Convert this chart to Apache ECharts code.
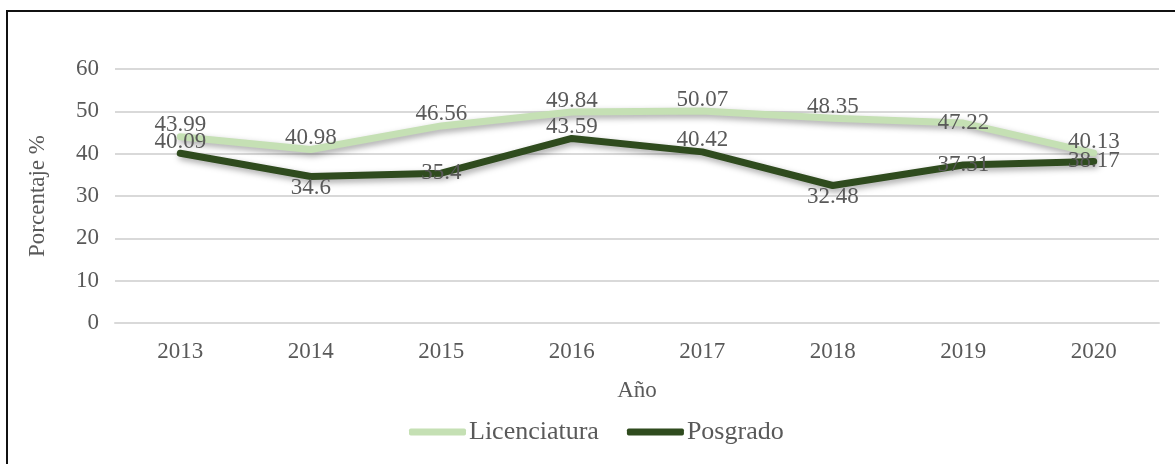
<!DOCTYPE html>
<html>
<head>
<meta charset="utf-8">
<script src="https://cdn.jsdelivr.net/npm/echarts@6/dist/echarts.min.js"></script>
<style>
  html, body { margin: 0; padding: 0; background: #fff; }
  #chart { width: 1175px; height: 464px; }
  .frame {
    position: absolute;
    left: 6px;
    top: 10px;
    right: 0;
    bottom: 0;
    border-left: 2px solid #111;
    border-top: 2px solid #111;
    pointer-events: none;
  }
</style>
</head>
<body>
<div id="chart"></div>
<div class="frame"></div>
<script>
  // datos del gráfico
  const years = ['2013', '2014', '2015', '2016', '2017', '2018', '2019', '2020']
  const licenciatura = [43.99, 40.98, 46.56, 49.84, 50.07, 48.35, 47.22, 40.13]
  const posgrado = [40.09, 34.6, 35.4, 43.59, 40.42, 32.48, 37.31, 38.17]
  const yTicks = [0, 10, 20, 30, 40, 50, 60]

  // posicion de etiquetas
  const licenciaturaLabelPos = ['top', 'top', 'top', 'top', 'top', 'top', 'inside', 'top']
  const posgradoLabelPos = ['top', 'bottom', 'inside', 'top', 'top', 'bottom', 'inside', 'inside']

  const font = 'Liberation Serif'
  const textColor = '#595959'

  const lineStyle = (color) => ({
    color: color,
    width: 7,
    cap: 'round',
    join: 'round',
    shadowColor: 'rgba(0,0,0,0.35)',
    shadowBlur: 6,
    shadowOffsetX: 2,
    shadowOffsetY: 3
  })

  const chart = echarts.init(document.getElementById('chart'))
  chart.setOption({
    animation: false,
    textStyle: { fontFamily: font },
    grid: {
      left: 115,
      right: 16,
      top: 69,
      bottom: 141
    },
    legend: {
      bottom: 14,
      left: 404,
      icon: 'roundRect',
      itemWidth: 57,
      itemHeight: 7,
      itemGap: 28,
      textStyle: {
        fontFamily: font,
        fontSize: 26,
        color: textColor,
        padding: [0, 0, 0, -2]
      },
      data: ['Licenciatura', 'Posgrado']
    },
    xAxis: {
      type: 'category',
      data: years,
      name: 'Año',
      nameLocation: 'middle',
      nameGap: 56,
      nameTextStyle: { fontFamily: font, fontSize: 23, color: textColor },
      axisLine: { lineStyle: { color: '#d9d9d9', width: 2 } },
      axisTick: { show: false },
      axisLabel: { fontFamily: font, fontSize: 23, color: textColor, margin: 17 }
    },
    yAxis: {
      type: 'value',
      min: yTicks[0],
      max: yTicks[yTicks.length - 1],
      interval: 10,
      name: 'Porcentaje %',
      nameLocation: 'middle',
      nameGap: 66,
      nameTextStyle: { fontFamily: font, fontSize: 23, color: textColor },
      axisLine: { show: false },
      axisTick: { show: false },
      splitLine: { lineStyle: { color: '#d9d9d9', width: 2 } },
      axisLabel: { fontFamily: font, fontSize: 23, color: textColor, margin: 16 }
    },
    series: [
      {
        name: 'Licenciatura',
        type: 'line',
        symbol: 'circle',
        symbolSize: 0,
        showSymbol: true,
        color: '#c5e0b4',
        data: licenciatura.map((v, i) => ({
          value: v,
          label: { position: licenciaturaLabelPos[i] }
        })),
        lineStyle: lineStyle('#c5e0b4'),
        label: {
          show: true,
          distance: 0,
          fontFamily: font,
          fontSize: 23,
          color: textColor
        }
      },
      {
        name: 'Posgrado',
        type: 'line',
        symbol: 'circle',
        symbolSize: 0,
        showSymbol: true,
        color: '#2f4b1e',
        data: posgrado.map((v, i) => ({
          value: v,
          label: { position: posgradoLabelPos[i] }
        })),
        lineStyle: lineStyle('#2f4b1e'),
        label: {
          show: true,
          distance: 0,
          fontFamily: font,
          fontSize: 23,
          color: textColor
        }
      }
    ]
  })
</script>
</body>
</html>
